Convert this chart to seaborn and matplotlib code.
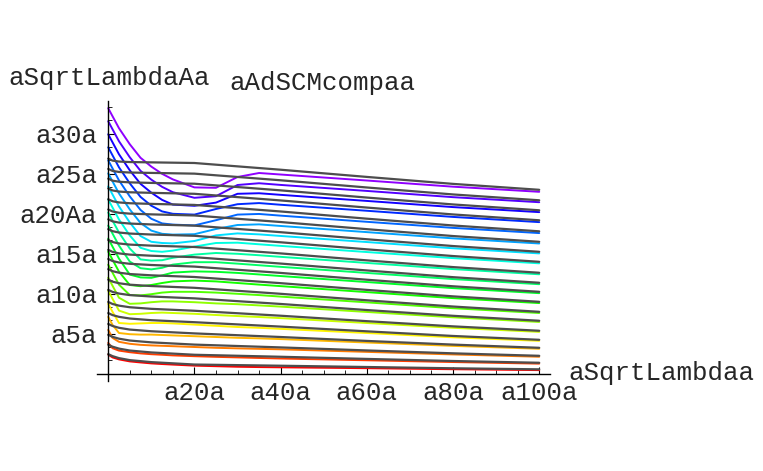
import colorsys
import matplotlib
matplotlib.use("Agg")
import matplotlib.pyplot as plt
from matplotlib.ticker import MultipleLocator, FixedLocator
import numpy as np
import pandas as pd
import seaborn as sns

# ---------------- data ----------------
x_gray = [0, 1, 2.5, 5, 10, 20, 40, 60, 80, 100]
gray_curves = [
    [2.46, 2.21, 1.96, 1.71, 1.46, 1.16, 1.01, 0.85, 0.69, 0.56],
    [3.64, 3.39, 3.15, 2.91, 2.67, 2.38, 2.13, 1.86, 1.60, 1.38],
    [4.87, 4.62, 4.39, 4.16, 3.93, 3.65, 3.30, 2.92, 2.56, 2.25],
    [6.23, 5.98, 5.75, 5.53, 5.32, 5.05, 4.60, 4.11, 3.65, 3.25],
    [7.59, 7.34, 7.12, 6.91, 6.70, 6.45, 5.90, 5.31, 4.73, 4.25],
    [8.98, 8.73, 8.52, 8.32, 8.12, 7.88, 7.26, 6.58, 5.93, 5.38],
    [10.49, 10.24, 10.03, 9.84, 9.66, 9.43, 8.73, 7.97, 7.25, 6.63],
    [11.77, 11.52, 11.32, 11.14, 10.97, 10.75, 10.00, 9.19, 8.41, 7.75],
    [13.08, 12.83, 12.64, 12.47, 12.31, 12.10, 11.33, 10.49, 9.68, 9.00],
    [14.35, 14.10, 13.91, 13.75, 13.60, 13.40, 12.61, 11.76, 10.94, 10.25],
    [15.49, 15.24, 15.05, 14.90, 14.76, 14.58, 13.78, 12.92, 12.08, 11.38],
    [16.72, 16.47, 16.29, 16.15, 16.02, 15.85, 15.05, 14.18, 13.34, 12.63],
    [18.08, 17.83, 17.66, 17.53, 17.41, 17.25, 16.44, 15.56, 14.72, 14.00],
    [19.31, 19.06, 18.90, 18.78, 18.67, 18.52, 17.70, 16.82, 15.97, 15.25],
    [20.54, 20.29, 20.13, 20.02, 19.93, 19.79, 18.97, 18.08, 17.22, 16.50],
    [21.82, 21.57, 21.42, 21.32, 21.24, 21.11, 20.29, 19.39, 18.54, 17.81],
    [23.17, 22.92, 22.78, 22.69, 22.62, 22.50, 21.67, 20.78, 19.92, 19.19],
    [24.39, 24.14, 24.01, 23.93, 23.86, 23.76, 22.93, 22.03, 21.17, 20.44],
    [25.61, 25.36, 25.23, 25.16, 25.11, 25.02, 24.19, 23.29, 22.42, 21.69],
    [26.90, 26.65, 26.53, 26.47, 26.43, 26.35, 25.51, 24.61, 23.74, 23.00],
]

x_col = [0, 1, 2.5, 5, 7.5, 10, 12.5, 15, 20, 25, 30, 35, 40, 60, 80, 100]
colored_curves = [
    [2.40, 2.05, 1.80, 1.55, 1.42, 1.30, 1.22, 1.15, 1.02, 0.95, 0.88, 0.84, 0.81, 0.70, 0.57, 0.46],
    [3.86, 3.20, 2.90, 2.70, 2.55, 2.45, 2.38, 2.30, 2.20, 2.12, 2.05, 1.98, 1.91, 1.69, 1.47, 1.27],
    [5.49, 4.49, 4.00, 3.75, 3.62, 3.55, 3.50, 3.45, 3.35, 3.25, 3.18, 3.12, 3.06, 2.74, 2.42, 2.13],
    [7.12, 6.12, 5.10, 4.95, 4.90, 4.90, 4.85, 4.80, 4.70, 4.60, 4.50, 4.43, 4.34, 3.91, 3.49, 3.13],
    [8.75, 7.75, 6.35, 6.25, 6.30, 6.35, 6.35, 6.30, 6.15, 6.00, 5.85, 5.75, 5.62, 5.10, 4.56, 4.12],
    [10.38, 9.38, 7.90, 7.45, 7.50, 7.60, 7.65, 7.60, 7.50, 7.35, 7.22, 7.10, 6.96, 6.35, 5.75, 5.24],
    [12.01, 11.01, 9.51, 8.75, 8.80, 8.95, 9.05, 9.05, 8.95, 8.80, 8.70, 8.55, 8.40, 7.73, 7.06, 6.48],
    [13.64, 12.64, 11.14, 9.85, 9.80, 9.95, 10.15, 10.25, 10.25, 10.15, 10.00, 9.84, 9.65, 8.93, 8.20, 7.60],
    [15.27, 14.27, 12.77, 11.10, 10.95, 11.10, 11.35, 11.55, 11.65, 11.55, 11.35, 11.15, 10.96, 10.21, 9.46, 8.84],
    [16.90, 15.90, 14.40, 12.40, 12.05, 12.00, 12.30, 12.65, 12.80, 12.75, 12.61, 12.42, 12.22, 11.47, 10.71, 10.08],
    [18.53, 17.53, 16.03, 14.03, 13.20, 13.05, 13.25, 13.65, 13.95, 13.95, 13.77, 13.57, 13.37, 12.61, 11.84, 11.20],
    [20.16, 19.16, 17.66, 15.66, 14.30, 14.15, 14.20, 14.50, 14.90, 15.10, 15.00, 14.82, 14.62, 13.86, 13.09, 12.44],
    [21.79, 20.79, 19.29, 17.29, 15.75, 15.35, 15.25, 15.40, 15.90, 16.35, 16.39, 16.19, 15.99, 15.22, 14.46, 13.81],
    [23.42, 22.42, 20.92, 18.92, 17.22, 16.50, 16.35, 16.30, 16.60, 17.30, 17.55, 17.43, 17.23, 16.47, 15.69, 15.05],
    [25.05, 24.05, 22.55, 20.55, 18.85, 17.90, 17.50, 17.40, 17.45, 18.10, 18.60, 18.68, 18.48, 17.71, 16.93, 16.29],
    [26.68, 25.68, 24.18, 22.18, 20.48, 19.38, 18.80, 18.65, 18.55, 19.20, 19.90, 19.98, 19.77, 19.00, 18.24, 17.59],
    [28.31, 27.31, 25.81, 23.81, 22.11, 21.01, 20.30, 20.00, 19.90, 20.60, 21.20, 21.34, 21.13, 20.38, 19.61, 18.96],
    [29.94, 28.94, 27.44, 25.44, 23.74, 22.64, 21.74, 21.15, 21.00, 21.40, 22.50, 22.57, 22.37, 21.61, 20.84, 20.21],
    [31.57, 30.57, 29.07, 27.07, 25.37, 24.27, 23.37, 22.70, 22.00, 22.20, 23.60, 23.82, 23.61, 22.86, 22.08, 21.45],
    [33.20, 32.20, 30.70, 28.70, 27.00, 25.90, 25.00, 24.30, 23.30, 23.25, 24.60, 25.10, 24.91, 24.16, 23.39, 22.75],
]

x_ticks = [20, 40, 60, 80, 100]
x_tick_labels = ["a20a", "a40a", "a60a", "a80a", "a100a"]
y_ticks = [5, 10, 15, 20, 25, 30]
y_tick_labels = ["a5a", "a10a", "a15a", "a20Aa", "a25a", "a30a"]

title_text = "aAdSCMcompaa"
x_label = "aSqrtLambdaa"
y_label = "aSqrtLambdaAa"

# ---------------- frames ----------------
gray_df = pd.DataFrame(
    [(x, y, k) for k, ys in enumerate(gray_curves) for x, y in zip(x_gray, ys)],
    columns=["x", "y", "line"],
)
col_df = pd.DataFrame(
    [(x, y, k) for k, ys in enumerate(colored_curves) for x, y in zip(x_col, ys)],
    columns=["x", "y", "line"],
)
n = len(colored_curves)
palette = [colorsys.hsv_to_rgb(0.04 * k, 1.0, 1.0) for k in range(n)]

# ---------------- plot ----------------
sns.set_style("white")
FONT = ["Liberation Mono", "DejaVu Sans Mono"]
plt.rcParams["font.family"] = FONT
FS = 18.5

fig = plt.figure(figsize=(7.63, 4.71), dpi=100)
ax = fig.add_axes([97 / 763, 1 - 381 / 471, 453 / 763, 280 / 471])

sns.lineplot(data=col_df, x="x", y="y", hue="line", palette=palette,
             estimator=None, sort=False, lw=1.4, legend=False, ax=ax)
sns.lineplot(data=gray_df, x="x", y="y", units="line", estimator=None,
             sort=False, color="#4d4d4d", lw=1.6, legend=False, ax=ax)

ax.set_xlim(-2.6, 102.5)
ax.set_ylim(-0.9, 34.1)

for s in ["top", "right"]:
    ax.spines[s].set_visible(False)
ax.spines["left"].set_position(("data", 0))
ax.spines["bottom"].set_position(("data", 0))
for s in ["left", "bottom"]:
    ax.spines[s].set_color("black")
    ax.spines[s].set_linewidth(1.0)

ax.xaxis.set_major_locator(FixedLocator(x_ticks))
ax.set_xticklabels(x_tick_labels)
ax.xaxis.set_minor_locator(MultipleLocator(5))
ax.yaxis.set_major_locator(FixedLocator(y_ticks))
ax.set_yticklabels(y_tick_labels)
ax.yaxis.set_minor_locator(MultipleLocator(5 / 3))

ax.tick_params(axis="both", which="major", direction="in", length=5,
               width=0.8, color="black", labelsize=FS)
ax.tick_params(axis="both", which="minor", direction="in", length=3,
               width=0.6, color="black")
ax.tick_params(axis="x", which="both", bottom=True, pad=5.5)
ax.tick_params(axis="y", which="both", left=True, pad=8)
ax.set_xlabel("")
ax.set_ylabel("")

fig.text(8 / 763, 1 - 85 / 471, y_label, fontsize=FS, ha="left",
         va="baseline", family=FONT)
fig.text(229 / 763, 1 - 90 / 471, title_text, fontsize=FS, ha="left",
         va="baseline", family=FONT)
fig.text(568 / 763, 1 - 380 / 471, x_label, fontsize=FS, ha="left",
         va="baseline", family=FONT)

fig.savefig("out.png", dpi=100, facecolor="white")
